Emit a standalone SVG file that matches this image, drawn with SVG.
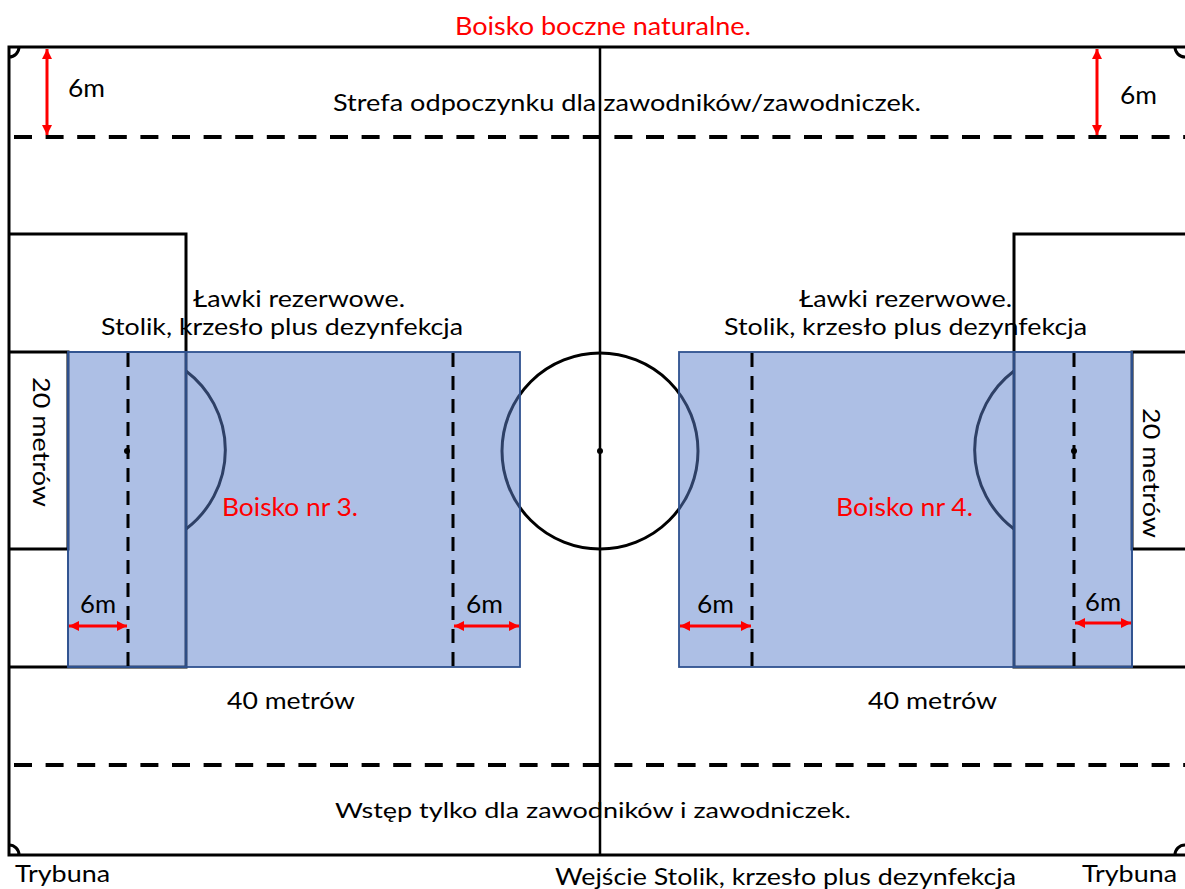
<svg xmlns="http://www.w3.org/2000/svg" width="1185" height="889" viewBox="0 0 1185 889">
<defs>
<style>
.ln{fill:none;stroke:#000;stroke-width:3}
.cl{fill:none;stroke:#000;stroke-width:2.5}
.dh{fill:none;stroke:#000;stroke-width:4;stroke-dasharray:18 13.6}
.dv{fill:none;stroke:#000;stroke-width:3;stroke-dasharray:14 9}
.zone{fill:#5b7fcb;fill-opacity:0.5;stroke:#2f528f;stroke-width:1.8}
.zone2{fill:none;stroke:#2f528f;stroke-width:1.5}
.arr{fill:none;stroke:#ff0000;stroke-width:3;marker-start:url(#ah);marker-end:url(#ah)}
.t{font-family:Lato,"Liberation Sans",sans-serif;fill:#000}
.r{fill:#ff0000}
</style>
<marker id="ah" viewBox="0 0 10 10" refX="10" refY="5" markerWidth="11" markerHeight="10" markerUnits="userSpaceOnUse" orient="auto-start-reverse">
<path d="M0,0 L10,5 L0,10 Z" fill="#ff0000"/>
</marker>
</defs>
<rect width="1185" height="889" fill="#fff"/>

<g id="field">
<rect class="ln" x="9" y="47" width="1180" height="808"/>
<line class="cl" x1="600" y1="47" x2="600" y2="855"/>
<circle class="ln" cx="600" cy="451" r="98"/>
<circle cx="600" cy="451" r="3" fill="#000"/>
<path class="ln" d="M9,57 A10,10 0 0 0 19,47"/>
<path class="ln" d="M9,845 A10,10 0 0 1 19,855"/>
<path class="ln" d="M1185,57 A10,10 0 0 1 1175,47"/>
<path class="ln" d="M1185,845 A10,10 0 0 0 1175,855"/>
</g>

<g id="penalty-left">
<polyline class="ln" points="9,234 186,234 186,667 9,667"/>
<polyline class="ln" points="9,352 68,352 68,549 9,549"/>
<path class="ln" d="M186,371 A99,99 0 0 1 186,529"/>
</g>

<g id="penalty-right">
<polyline class="ln" points="1189,234 1014,234 1014,667 1189,667"/>
<polyline class="ln" points="1189,352 1132,352 1132,549 1189,549"/>
<path class="ln" d="M1014,371 A99,99 0 0 0 1014,529"/>
</g>

<g id="boisko-3">
<rect class="zone" x="68" y="352" width="452" height="315"/>
<rect class="zone2" x="68" y="352" width="118" height="315"/>
<line class="dv" x1="128" y1="353" x2="128" y2="667"/>
<line class="dv" x1="453" y1="353" x2="453" y2="667"/>
<circle cx="127" cy="451" r="3" fill="#000"/>
<text class="t r" x="222" y="516" font-size="24.5" textLength="136" lengthAdjust="spacingAndGlyphs">Boisko nr 3.</text>
</g>

<g id="boisko-4">
<rect class="zone" x="679" y="352" width="453" height="315"/>
<rect class="zone2" x="1014" y="352" width="118" height="315"/>
<line class="dv" x1="752" y1="353" x2="752" y2="667"/>
<line class="dv" x1="1074" y1="353" x2="1074" y2="667"/>
<circle cx="1074" cy="451" r="3" fill="#000"/>
<text class="t r" x="836" y="516" font-size="24.5" textLength="137" lengthAdjust="spacingAndGlyphs">Boisko nr 4.</text>
</g>

<g id="zones">
<line class="dh" x1="14" y1="137" x2="1185" y2="137"/>
<line class="dh" x1="14" y1="765" x2="1185" y2="765"/>
</g>

<g id="connectors">
<line class="arr" x1="47" y1="49" x2="47" y2="135"/>
<line class="arr" x1="1097" y1="49" x2="1097" y2="135"/>
<line class="arr" x1="69" y1="626" x2="127" y2="626"/>
<line class="arr" x1="454" y1="626" x2="519" y2="626"/>
<line class="arr" x1="680" y1="626" x2="751" y2="626"/>
<line class="arr" x1="1075" y1="623" x2="1131" y2="623"/>
</g>

<g id="labels">
<text class="t r" x="455" y="35" font-size="25.5" textLength="296" lengthAdjust="spacingAndGlyphs">Boisko boczne naturalne.</text>
<text class="t" x="68" y="97" font-size="25" textLength="37" lengthAdjust="spacingAndGlyphs">6m</text>
<text class="t" x="1120" y="104" font-size="25" textLength="37" lengthAdjust="spacingAndGlyphs">6m</text>
<text class="t" x="333" y="111" font-size="23" textLength="588" lengthAdjust="spacingAndGlyphs">Strefa odpoczynku dla zawodników/zawodniczek.</text>
<text class="t" x="193" y="307" font-size="23" textLength="212" lengthAdjust="spacingAndGlyphs">Ławki rezerwowe.</text>
<text class="t" x="101" y="335" font-size="23" textLength="362" lengthAdjust="spacingAndGlyphs">Stolik, krzesło plus dezynfekcja</text>
<text class="t" x="799" y="307" font-size="23" textLength="213" lengthAdjust="spacingAndGlyphs">Ławki rezerwowe.</text>
<text class="t" x="724" y="335" font-size="23" textLength="363" lengthAdjust="spacingAndGlyphs">Stolik, krzesło plus dezynfekcja</text>
<text class="t" transform="translate(33,377) rotate(90)" font-size="23" textLength="130" lengthAdjust="spacingAndGlyphs">20 metrów</text>
<text class="t" transform="translate(1143,408) rotate(90)" font-size="23" textLength="130" lengthAdjust="spacingAndGlyphs">20 metrów</text>
<text class="t" x="80" y="613" font-size="25" textLength="36" lengthAdjust="spacingAndGlyphs">6m</text>
<text class="t" x="466" y="613" font-size="25" textLength="37" lengthAdjust="spacingAndGlyphs">6m</text>
<text class="t" x="697" y="613" font-size="25" textLength="37" lengthAdjust="spacingAndGlyphs">6m</text>
<text class="t" x="1085" y="611" font-size="25" textLength="36" lengthAdjust="spacingAndGlyphs">6m</text>
<text class="t" x="227" y="709" font-size="23" textLength="128" lengthAdjust="spacingAndGlyphs">40 metrów</text>
<text class="t" x="868" y="709" font-size="23" textLength="129" lengthAdjust="spacingAndGlyphs">40 metrów</text>
<text class="t" x="335" y="818" font-size="22" textLength="516" lengthAdjust="spacingAndGlyphs">Wstęp tylko dla zawodników i zawodniczek.</text>
<text class="t" x="15" y="882" font-size="23" textLength="95" lengthAdjust="spacingAndGlyphs">Trybuna</text>
<text class="t" x="555" y="885" font-size="23" textLength="461" lengthAdjust="spacingAndGlyphs">Wejście Stolik, krzesło plus dezynfekcja</text>
<text class="t" x="1082" y="882" font-size="23" textLength="95" lengthAdjust="spacingAndGlyphs">Trybuna</text>
</g>
</svg>
